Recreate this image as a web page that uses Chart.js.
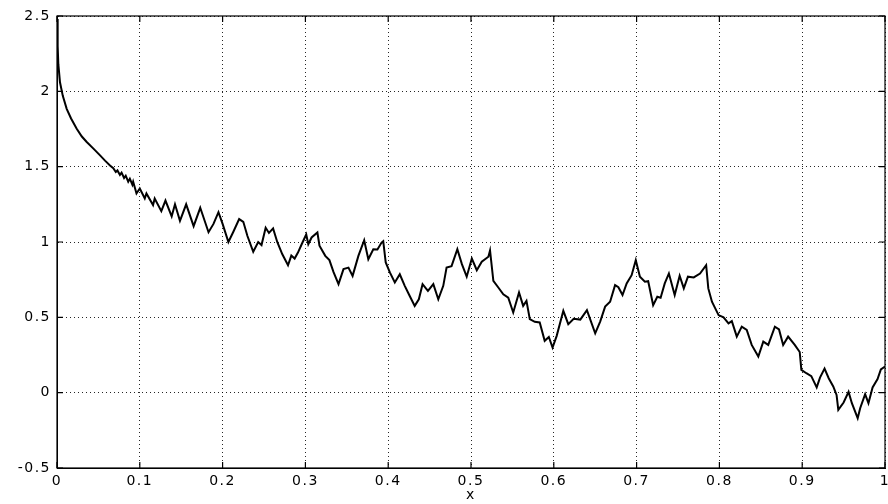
<!DOCTYPE html>
<html>
<head>
<meta charset="utf-8">
<script src="https://cdn.jsdelivr.net/npm/chart.js@4"></script>
<style>
  html, body { margin: 0; padding: 0; background: #fff; }
  #wrap { width: 888px; height: 504px; }
</style>
</head>
<body>
<div id="wrap"><canvas id="curveChart" width="888" height="504"></canvas></div>
<script>
// values
const xValues = [
  0, 0.0008, 0.0016, 0.0036, 0.007, 0.0117, 0.017, 0.0238, 0.030, 0.0359,
  0.044, 0.052, 0.058, 0.064, 0.068, 0.071, 0.073, 0.076, 0.078, 0.081,
  0.083, 0.086, 0.088, 0.091, 0.092, 0.096, 0.100, 0.106, 0.108, 0.116,
  0.118, 0.126, 0.131, 0.1385, 0.1425, 0.1485, 0.156, 0.165, 0.173, 0.183,
  0.189, 0.195, 0.200, 0.207, 0.213, 0.220, 0.225, 0.230, 0.237, 0.243,
  0.247, 0.252, 0.256, 0.261, 0.266, 0.272, 0.279, 0.283, 0.287, 0.291,
  0.2955, 0.301, 0.3035, 0.3075, 0.3145, 0.317, 0.324, 0.329, 0.334, 0.340,
  0.346, 0.352, 0.357, 0.364, 0.371, 0.376, 0.382, 0.387, 0.392, 0.394,
  0.397, 0.402, 0.408, 0.414, 0.420, 0.426, 0.432, 0.437, 0.4415, 0.448,
  0.4545, 0.4605, 0.4665, 0.4705, 0.4765, 0.4835, 0.489, 0.4948, 0.501, 0.507,
  0.513, 0.521, 0.523, 0.527, 0.533, 0.539, 0.545, 0.551, 0.558, 0.563,
  0.567, 0.571, 0.577, 0.583, 0.589, 0.594, 0.5985, 0.6035, 0.6115, 0.6175,
  0.624, 0.632, 0.640, 0.650, 0.656, 0.662, 0.668, 0.674, 0.678, 0.683,
  0.688, 0.694, 0.699, 0.704, 0.710, 0.714, 0.720, 0.725, 0.729, 0.734,
  0.739, 0.746, 0.752, 0.757, 0.762, 0.769, 0.7766, 0.784, 0.7866, 0.791,
  0.799, 0.805, 0.811, 0.815, 0.821, 0.827, 0.833, 0.839, 0.847, 0.853,
  0.859, 0.867, 0.872, 0.877, 0.883, 0.891, 0.897, 0.899, 0.905, 0.911,
  0.9175, 0.9215, 0.927, 0.932, 0.9375, 0.9415, 0.9436, 0.950, 0.956, 0.960,
  0.967, 0.970, 0.976, 0.980, 0.985, 0.991, 0.995, 1.0
];
const yValues = [
  2.48, 2.30, 2.18, 2.06, 1.97, 1.884, 1.82, 1.752, 1.70, 1.664,
  1.62, 1.575, 1.54, 1.508, 1.49, 1.465, 1.475, 1.445, 1.46, 1.425,
  1.44, 1.40, 1.42, 1.38, 1.40, 1.322, 1.355, 1.289, 1.322, 1.245,
  1.289, 1.205, 1.275, 1.17, 1.25, 1.14, 1.25, 1.105, 1.227, 1.065,
  1.12, 1.198, 1.12, 1.0, 1.068, 1.152, 1.134, 1.04, 0.935, 1.0,
  0.98, 1.095, 1.06, 1.09, 1.0, 0.92, 0.846, 0.91, 0.89, 0.93,
  0.985, 1.05, 0.985, 1.03, 1.063, 0.975, 0.908, 0.88, 0.80, 0.72,
  0.82, 0.83, 0.775, 0.908, 1.012, 0.886, 0.952, 0.95, 0.996, 1.005,
  0.864, 0.798, 0.731, 0.786, 0.709, 0.642, 0.576, 0.62, 0.72, 0.675,
  0.72, 0.62, 0.709, 0.83, 0.84, 0.952, 0.853, 0.77, 0.89, 0.813,
  0.869, 0.902, 0.944, 0.742, 0.698, 0.653, 0.63, 0.532, 0.665, 0.576,
  0.609, 0.488, 0.47, 0.466, 0.344, 0.37, 0.30, 0.377, 0.543, 0.455,
  0.49, 0.485, 0.548, 0.394, 0.472, 0.571, 0.604, 0.714, 0.70, 0.648,
  0.725, 0.78, 0.879, 0.77, 0.736, 0.74, 0.581, 0.637, 0.63, 0.725,
  0.791, 0.648, 0.776, 0.692, 0.77, 0.765, 0.791, 0.846, 0.692, 0.604,
  0.515, 0.50, 0.46, 0.475, 0.372, 0.438, 0.416, 0.317, 0.24, 0.339,
  0.317, 0.438, 0.42, 0.317, 0.372, 0.317, 0.27, 0.151, 0.129, 0.11,
  0.035, 0.10, 0.16, 0.096, 0.041, -0.015, -0.114, -0.065, 0.005, -0.07,
  -0.169, -0.103, -0.01, -0.07, 0.035, 0.09, 0.155, 0.173
];
const xTicks = [0, 0.1, 0.2, 0.3, 0.4, 0.5, 0.6, 0.7, 0.8, 0.9, 1];
const yTicks = [-0.5, 0, 0.5, 1, 1.5, 2, 2.5];

const points = xValues.map((x, i) => ({ x: x, y: yValues[i] }));

// wide-set labels like the original print
const spacingPlugin = {
  id: 'spacing',
  beforeLayout(chart) { chart.ctx.letterSpacing = '1.5px'; },
  beforeDraw(chart) { chart.ctx.letterSpacing = '1.5px'; }
};

// solid box round the plot plus small inward ticks on every side
const framePlugin = {
  id: 'frame',
  afterDraw(chart) {
    const ctx = chart.ctx;
    const a = chart.chartArea;
    const sx = chart.scales.x;
    const sy = chart.scales.y;
    ctx.save();
    ctx.strokeStyle = '#000';
    ctx.lineWidth = 1.2;
    ctx.setLineDash([]);
    ctx.strokeRect(a.left, a.top, a.right - a.left, a.bottom - a.top);
    ctx.beginPath();
    const len = 6;
    xTicks.forEach(t => {
      const px = sx.getPixelForValue(t);
      ctx.moveTo(px, a.bottom); ctx.lineTo(px, a.bottom - len);
      ctx.moveTo(px, a.top); ctx.lineTo(px, a.top + len);
    });
    yTicks.forEach(t => {
      const py = sy.getPixelForValue(t);
      ctx.moveTo(a.left, py); ctx.lineTo(a.left + len, py);
      ctx.moveTo(a.right, py); ctx.lineTo(a.right - len, py);
    });
    ctx.stroke();
    ctx.restore();
  }
};

const font = { family: '"DejaVu Sans", Arial, sans-serif', size: 14 };
const plain = v => String(Math.round(v * 10) / 10);

new Chart(document.getElementById('curveChart').getContext('2d'), {
  type: 'line',
  data: {
    datasets: [{
      data: points,
      borderColor: '#000',
      borderWidth: 2,
      pointRadius: 0,
      tension: 0,
      fill: false
    }]
  },
  options: {
    responsive: false,
    animation: false,
    layout: { padding: { top: 16, right: 3, left: 0, bottom: 0 } },
    plugins: {
      legend: { display: false },
      tooltip: { enabled: false }
    },
    scales: {
      x: {
        type: 'linear',
        min: 0,
        max: 1,
        afterBuildTicks: scale => { scale.ticks = xTicks.map(v => ({ value: v })); },
        afterFit: scale => {
          scale.height = 36;
          scale.paddingLeft = 0;
          scale.paddingRight = 0;
        },
        ticks: { color: '#000', font: font, padding: 5, maxRotation: 0, callback: plain },
        grid: { color: 'rgba(0,0,0,0.85)', lineWidth: 1, drawTicks: false },
        border: { display: true, color: '#000', dash: [1, 3] },
        title: { display: true, text: 'x', color: '#000', font: font, padding: { top: 0, bottom: 0 } }
      },
      y: {
        min: -0.5,
        max: 2.5,
        afterBuildTicks: scale => { scale.ticks = yTicks.map(v => ({ value: v })); },
        afterFit: scale => {
          scale.width = 57;
          scale.paddingTop = 0;
          scale.paddingBottom = 0;
        },
        ticks: { color: '#000', font: font, padding: 6, callback: plain },
        grid: { color: 'rgba(0,0,0,0.85)', lineWidth: 1, drawTicks: false },
        border: { display: true, color: '#000', dash: [1, 3] }
      }
    }
  },
  plugins: [spacingPlugin, framePlugin]
});
</script>
</body>
</html>
